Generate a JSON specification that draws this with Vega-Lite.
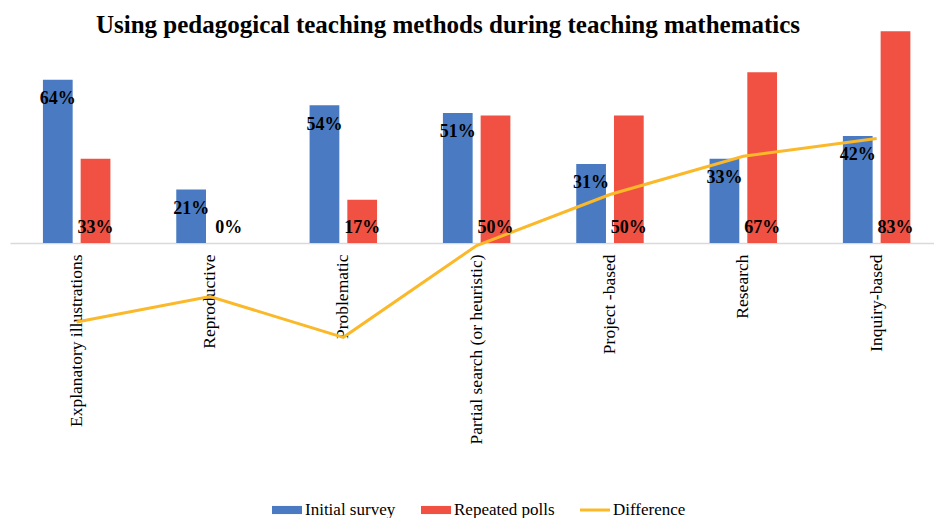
{
  "$schema": "https://vega.github.io/schema/vega-lite/v6.json",
  "width": 924,
  "height": 420,
  "autosize": {"type": "none"},
  "padding": {"left": 10, "top": 40, "right": 0, "bottom": 58},
  "background": "white",
  "config": {"view": {"stroke": null}},
  "title": {
    "text": "Using pedagogical teaching methods during teaching mathematics",
    "font": "Liberation Serif",
    "fontSize": 25,
    "fontWeight": "bold",
    "color": "#000000",
    "anchor": "middle",
    "frame": "group",
    "baseline": "alphabetic",
    "offset": 8,
    "dx": -24,
    "dy": 35
  },
  "data": {
    "values": [
      {"category": "Explanatory illustrations", "series": "Initial survey", "value": 0.64},
      {"category": "Reproductive", "series": "Initial survey", "value": 0.21},
      {"category": "Problematic", "series": "Initial survey", "value": 0.54},
      {"category": "Partial search (or heuristic)", "series": "Initial survey", "value": 0.51},
      {"category": "Project -based", "series": "Initial survey", "value": 0.31},
      {"category": "Research", "series": "Initial survey", "value": 0.33},
      {"category": "Inquiry-based", "series": "Initial survey", "value": 0.42},
      {"category": "Explanatory illustrations", "series": "Repeated polls", "value": 0.33},
      {"category": "Reproductive", "series": "Repeated polls", "value": 0.0},
      {"category": "Problematic", "series": "Repeated polls", "value": 0.17},
      {"category": "Partial search (or heuristic)", "series": "Repeated polls", "value": 0.50},
      {"category": "Project -based", "series": "Repeated polls", "value": 0.50},
      {"category": "Research", "series": "Repeated polls", "value": 0.67},
      {"category": "Inquiry-based", "series": "Repeated polls", "value": 0.83},
      {"category": "Explanatory illustrations", "series": "Difference", "value": -0.31},
      {"category": "Reproductive", "series": "Difference", "value": -0.21},
      {"category": "Problematic", "series": "Difference", "value": -0.37},
      {"category": "Partial search (or heuristic)", "series": "Difference", "value": -0.01},
      {"category": "Project -based", "series": "Difference", "value": 0.19},
      {"category": "Research", "series": "Difference", "value": 0.34},
      {"category": "Inquiry-based", "series": "Difference", "value": 0.41}
    ]
  },
  "encoding": {
    "x": {
      "field": "category",
      "type": "nominal",
      "sort": null,
      "scale": {"range": [0, 933.3], "paddingInner": 0.494, "paddingOuter": 0.247},
      "axis": {
        "title": null,
        "orient": "bottom",
        "offset": -217,
        "labelAngle": -90,
        "labelFont": "Liberation Serif",
        "labelFontSize": 17.5,
        "labelColor": "#000000",
        "labelPadding": 11,
        "labelLimit": 400,
        "ticks": false,
        "domainColor": "#d9d9d9",
        "domainWidth": 1.3,
        "grid": false
      }
    },
    "y": {
      "field": "value",
      "type": "quantitative",
      "scale": {"domain": [-0.851, 0.796], "nice": false},
      "axis": null
    }
  },
  "layer": [
    {
      "transform": [{"filter": "datum.series !== 'Difference'"}],
      "mark": {"type": "bar"},
      "encoding": {
        "xOffset": {
          "field": "series",
          "type": "nominal",
          "scale": {"domain": ["Initial survey", "Repeated polls"], "paddingInner": 0.212, "paddingOuter": 0}
        },
        "color": {
          "field": "series",
          "type": "nominal",
          "scale": {
            "domain": ["Initial survey", "Repeated polls", "Difference"],
            "range": ["#4a7bc2", "#f05142", "#fbb829"]
          },
          "legend": {
            "title": null,
            "orient": "none",
            "legendX": 262,
            "legendY": 455,
            "direction": "horizontal",
            "labelFont": "Liberation Serif",
            "labelFontSize": 17,
            "labelColor": "#000000",
            "symbolSize": 900,
            "columnPadding": 25,
            "labelOffset": 3,
            "encode": {
              "symbols": {
                "update": {
                  "shape": {"signal": "datum.value === 'Difference' ? 'M-1,-0.1H1V0.1H-1Z' : 'M-1,-0.27H1V0.27H-1Z'"},
                  "fill": {"signal": "scale('color', datum.value)"},
                  "strokeWidth": {"value": 0},
                  "opacity": {"value": 1}
                }
              }
            }
          }
        }
      }
    },
    {
      "transform": [{"filter": "datum.series === 'Difference'"}],
      "mark": {"type": "line", "strokeWidth": 3},
      "encoding": {
        "color": {"field": "series", "type": "nominal"}
      }
    },
    {
      "transform": [{"filter": "datum.series === 'Initial survey'"}],
      "mark": {"type": "text", "font": "Liberation Serif", "fontSize": 18, "fontWeight": "bold", "color": "#000000", "baseline": "middle", "dy": 19.5},
      "encoding": {
        "xOffset": {"field": "series", "type": "nominal", "scale": {"domain": ["Initial survey", "Repeated polls"]}},
        "text": {"field": "value", "type": "quantitative", "format": ".0%"}
      }
    },
    {
      "transform": [{"filter": "datum.series === 'Repeated polls'"}],
      "mark": {"type": "text", "font": "Liberation Serif", "fontSize": 18, "fontWeight": "bold", "color": "#000000", "baseline": "middle", "dy": -15},
      "encoding": {
        "xOffset": {"field": "series", "type": "nominal", "scale": {"domain": ["Initial survey", "Repeated polls"]}},
        "y": {"datum": 0},
        "text": {"field": "value", "type": "quantitative", "format": ".0%"}
      }
    }
  ]
}
